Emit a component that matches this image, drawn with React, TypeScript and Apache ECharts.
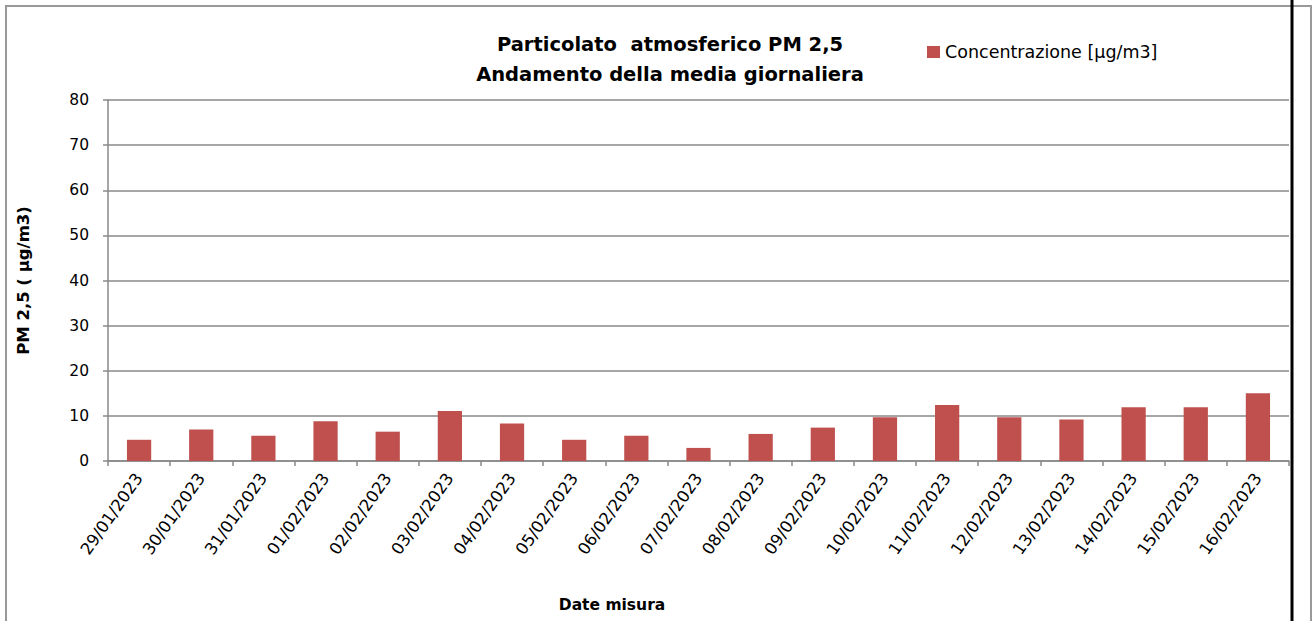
import React, { useEffect, useRef } from "react";
import * as echarts from "echarts";

const categories = [
  "29/01/2023", "30/01/2023", "31/01/2023", "01/02/2023", "02/02/2023",
  "03/02/2023", "04/02/2023", "05/02/2023", "06/02/2023", "07/02/2023",
  "08/02/2023", "09/02/2023", "10/02/2023", "11/02/2023", "12/02/2023",
  "13/02/2023", "14/02/2023", "15/02/2023", "16/02/2023",
];
const concentrazione = [
  4.7, 7.0, 5.6, 8.8, 6.5, 11.1, 8.3, 4.7, 5.6, 2.9,
  6.0, 7.4, 9.7, 12.4, 9.7, 9.2, 11.9, 11.9, 15.0,
];
const seriesName = "Concentrazione [µg/m3]";
const titleLines = ["Particolato  atmosferico PM 2,5", "Andamento della media giornaliera"];
const yAxisName = "PM 2,5 ( µg/m3)";
const xAxisName = "Date misura";

const FONT = "'DejaVu Sans', 'Open Sans', sans-serif";

export default function App() {
  const ref = useRef<HTMLDivElement>(null);
  useEffect(() => {
    document.body.style.margin = "0";
    const chart = echarts.init(ref.current!, null, { renderer: "svg" });
    chart.setOption({
      animation: false,
      backgroundColor: "#ffffff",
      textStyle: { fontFamily: FONT },
      title: {
        text: titleLines.join("\n"),
        left: 665,
        top: 24,
        textAlign: "center",
        textStyle: { fontFamily: FONT, fontSize: 19.5, fontWeight: "bold", color: "#000", lineHeight: 30 },
      },
      legend: {
        left: 922,
        top: 38,
        itemWidth: 13,
        itemHeight: 12,
        itemGap: 8,
        icon: "rect",
        textStyle: { fontFamily: FONT, fontSize: 17.5, color: "#000" },
        data: [seriesName],
      },
      grid: { left: 108, right: 23, top: 100, bottom: 160, containLabel: false },
      xAxis: {
        type: "category",
        data: categories,
        boundaryGap: true,
        axisLine: { lineStyle: { color: "#888", width: 1.5 } },
        axisTick: { show: true, length: 5, alignWithLabel: false, lineStyle: { color: "#888", width: 1.5 } },
        axisLabel: { interval: 0, rotate: 55, margin: 14, color: "#000", fontFamily: FONT, fontSize: 16.5 },
      },
      yAxis: {
        type: "value",
        min: 0,
        max: 80,
        interval: 10,
        name: yAxisName,
        nameLocation: "middle",
        nameGap: 76,
        nameTextStyle: { fontFamily: FONT, fontSize: 16.5, fontWeight: "bold", color: "#000" },
        axisLine: { show: true, lineStyle: { color: "#888", width: 1.5 } },
        axisTick: { show: true, length: 5, lineStyle: { color: "#888", width: 1.5 } },
        axisLabel: { color: "#000", fontFamily: FONT, fontSize: 15.5, margin: 19 },
        splitLine: { show: true, lineStyle: { color: "#888", width: 1.5 } },
      },
      series: [
        {
          name: seriesName,
          type: "bar",
          data: concentrazione,
          barCategoryGap: "61%",
          itemStyle: { color: "#C0504D" },
        },
      ],
      graphic: [
        {
          type: "rect",
          shape: { x: 6, y: 6, width: 1305, height: 640 },
          style: { fill: "none", stroke: "#999", lineWidth: 2 },
          silent: true,
        },
        {
          type: "line",
          shape: { x1: 1292, y1: 0, x2: 1292, y2: 621 },
          style: { stroke: "#000", lineWidth: 3 },
          silent: true,
        },
        {
          type: "text",
          x: 612,
          y: 605,
          style: {
            text: xAxisName,
            fontFamily: FONT,
            fontSize: 15.5,
            fontWeight: "bold",
            fill: "#000",
            align: "center",
            verticalAlign: "middle",
          },
        },
      ],
    });
    return () => chart.dispose();
  }, []);
  return <div ref={ref} style={{ position: "absolute", left: 0, top: 0, width: 1312, height: 621 }} />;
}
